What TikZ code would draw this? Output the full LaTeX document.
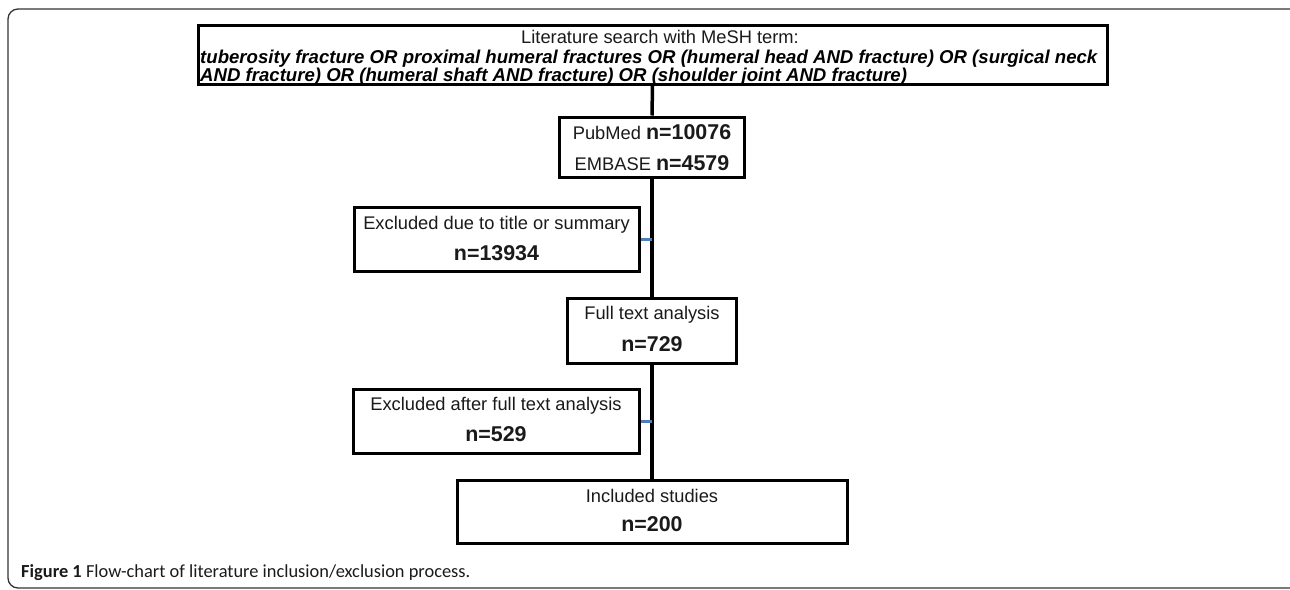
\documentclass[tikz,border=0pt]{standalone}
\usepackage{fontspec}
\setmainfont{Liberation Sans}
\newfontfamily\capfont{Carlito}
\definecolor{txt}{HTML}{1A1A1A}
\definecolor{stubblue}{HTML}{4F7FB8}
\definecolor{framegray}{HTML}{333333}
\begin{document}
\begin{tikzpicture}[x=1pt,y=-1pt,
  box/.style={draw=black,line width=3pt,fill=white,inner sep=0pt},
  conn/.style={line width=3.5pt,black},
  stub/.style={line width=3pt,draw=stubblue},
  reg/.style={font=\fontsize{18.3}{22}\selectfont,text=txt,inner sep=0pt},
  num/.style={font=\fontsize{21.4}{24}\selectfont\bfseries,text=txt,inner sep=0pt},
  bi/.style={font=\fontsize{18.6}{22}\selectfont\bfseries\itshape,text=black,inner sep=0pt},
  framestyle/.style={draw=framegray,line width=1.3pt,rounded corners=10pt}
]
\useasboundingbox (0,0) rectangle (1290,589);
\draw[framestyle] (8,9) rectangle (1300,588);

% boxes
\node[box,minimum width=909pt,minimum height=59pt] (search) at (652.5,54.5) {};
\node[box,minimum width=185pt,minimum height=60pt] (pub) at (652,147) {};
\node[box,minimum width=285pt,minimum height=64pt] (exc1) at (496.5,239) {};
\node[box,minimum width=169pt,minimum height=65pt] (full) at (652,330.5) {};
\node[box,minimum width=286pt,minimum height=64pt] (exc2) at (496,421) {};
\node[box,minimum width=390pt,minimum height=63pt] (incl) at (652,511.5) {};

% connectors
\draw[conn] (search.south) -- (pub.north);
\draw[conn] (pub.south) -- (full.north);
\draw[conn] (full.south) -- (incl.north);
\draw[stub] (exc1.east) -- (exc1.east -| pub.south);
\draw[stub] (exc2.east) -- (exc2.east -| full.south);

% texts
\node[reg] (t0) at (660,37) {Literature search with MeSH term:};
\node[bi,anchor=west] (t1) at (200,59) {tuberosity fracture OR proximal humeral fractures OR (humeral head AND fracture) OR (surgical neck};
\node[bi,anchor=west] (t2) at (200,77) {AND fracture) OR (humeral shaft AND fracture) OR (shoulder joint AND fracture)};

\node[inner sep=0pt] (p1) at (652,132) {\fontsize{18.3}{22}\selectfont\color{txt}PubMed \fontsize{21.4}{24}\selectfont\bfseries n=10076};
\node[inner sep=0pt] (p2) at (652,163) {\fontsize{18.3}{22}\selectfont\color{txt}EMBASE \fontsize{21.4}{24}\selectfont\bfseries n=4579};

\node[reg] (e1a) at (496.5,225) {Excluded due to title or summary};
\node[num] (e1b) at (496.5,253) {n=13934};

\node[reg] (fa) at (652,315) {Full text analysis};
\node[num] (fb) at (652,344) {n=729};

\node[reg] (e2a) at (496,406) {Excluded after full text analysis};
\node[num] (e2b) at (496,434) {n=529};

\node[reg] (ia) at (652,496) {Included studies};
\node[num] (ib) at (652,524) {n=200};

\node[anchor=west,inner sep=0pt,text=txt,font=\capfont\fontsize{18.4}{22}\selectfont] (cap) at (21,573) {\textbf{Figure 1} Flow-chart of literature inclusion/exclusion process.};
\end{tikzpicture}
\end{document}
